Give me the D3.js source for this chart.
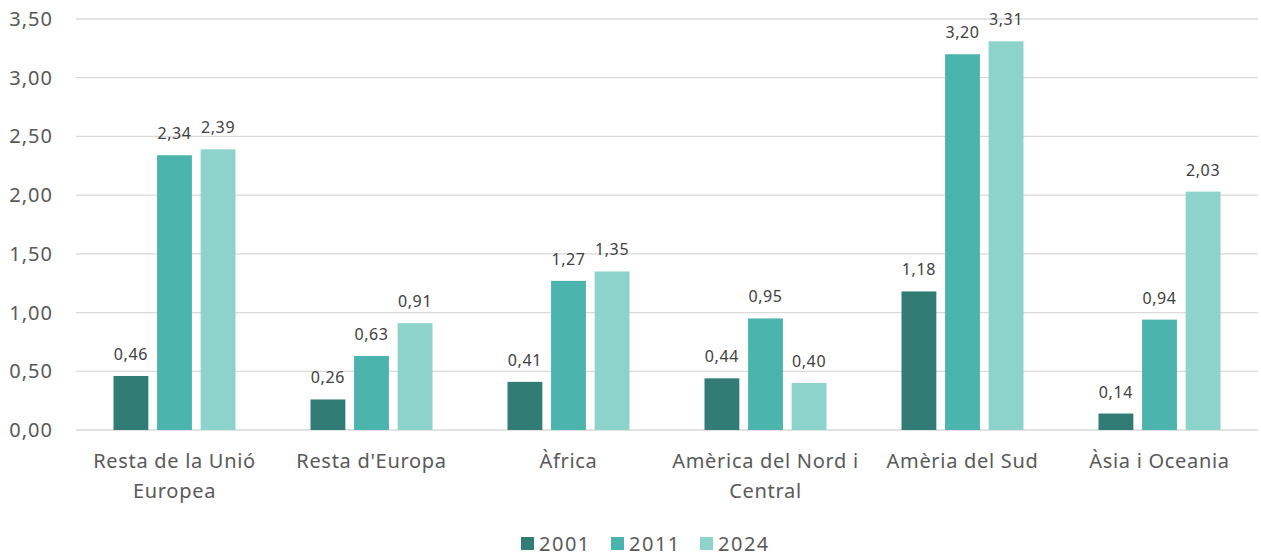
<!DOCTYPE html>
<html>
<head>
<meta charset="utf-8">
<script src="https://cdn.jsdelivr.net/npm/d3@7"></script>
<style>
  html, body { margin: 0; background: #fff; overflow: hidden; }
  svg { display: block; }
  svg text { font-family: "Noto Sans", "Open Sans", sans-serif; }
</style>
</head>
<body>
<div id="chart"></div>
<script>
const categories = [
    ["Resta de la Unió", "Europea"],
    ["Resta d'Europa"],
    ["Àfrica"],
    ["Amèrica del Nord i", "Central"],
    ["Amèria del Sud"],
    ["Àsia i Oceania"]
];
const seriesNames = ["2001", "2011", "2024"];
const values2001 = [0.46, 0.26, 0.41, 0.44, 1.18, 0.14];
const values2011 = [2.34, 0.63, 1.27, 0.95, 3.20, 0.94];
const values2024 = [2.39, 0.91, 1.35, 0.40, 3.31, 2.03];
const yTicks = [0, 0.5, 1, 1.5, 2, 2.5, 3, 3.5];
const colors = ["#317d76", "#4bb5ad", "#8cd3cc"];

const width = 1261;
const height = 557;
const margin = { top: 19, right: 3, bottom: 127, left: 76 };
const innerWidth = width - margin.left - margin.right;
const innerHeight = height - margin.top - margin.bottom;

const series = [values2001, values2011, values2024];
const keys = categories.map((c, i) => "c" + i);
const fmt = v => d3.format(".2f")(v).replace(".", ",");

const svg = d3.select("#chart")
    .append("svg")
    .attr("width", width)
    .attr("height", height);
const graph = svg.append("g")
    .attr("transform", `translate(${margin.left},${margin.top})`);

const y = d3.scaleLinear()
    .domain([0, 3.5])
    .range([innerHeight, 0]);

const x = d3.scaleBand()
    .domain(keys)
    .range([0, innerWidth]);

const xInner = d3.scaleBand()
    .domain(seriesNames)
    .range([x.bandwidth() / 2 - 61, x.bandwidth() / 2 + 61])
    .paddingInner(0.2);

// gridlines + y labels
graph.append("g")
    .selectAll("line")
    .data(yTicks)
    .join("line")
    .attr("x1", 0)
    .attr("x2", innerWidth)
    .attr("y1", d => y(d))
    .attr("y2", d => y(d))
    .attr("stroke", "#d9d9d9")
    .attr("stroke-width", 1.3);

graph.append("g")
    .selectAll("text")
    .data(yTicks)
    .join("text")
    .attr("x", -23)
    .attr("y", d => y(d))
    .attr("dy", "0.35em")
    .attr("text-anchor", "end")
    .attr("fill", "#595959")
    .attr("font-size", "20px")
    .attr("letter-spacing", "1px")
    .text(fmt);

// bars
const groups = graph.selectAll(".grp")
    .data(keys)
    .join("g")
    .attr("transform", d => `translate(${x(d)},0)`);

groups.each(function (k, ci) {
    const g = d3.select(this);
    seriesNames.forEach((s, si) => {
        const v = series[si][ci];
        g.append("rect")
            .attr("x", xInner(s))
            .attr("width", xInner.bandwidth())
            .attr("y", y(v))
            .attr("height", y(0) - y(v))
            .attr("fill", colors[si]);
        g.append("text")
            .attr("x", xInner(s) + xInner.bandwidth() / 2)
            .attr("y", y(v) - 16)
            .attr("text-anchor", "middle")
            .attr("fill", "#404040")
            .attr("font-size", "16px")
            .attr("letter-spacing", "0.6px")
            .text(fmt(v));
    });
});

// category labels
graph.append("g")
    .selectAll("text")
    .data(categories)
    .join("text")
    .attr("x", (d, i) => x(keys[i]) + x.bandwidth() / 2)
    .attr("y", innerHeight + 38)
    .attr("text-anchor", "middle")
    .attr("fill", "#595959")
    .attr("font-size", "20px")
    .attr("letter-spacing", "0.7px")
    .each(function (lines) {
        const t = d3.select(this);
        lines.forEach((l, li) => {
            t.append("tspan")
                .attr("x", t.attr("x"))
                .attr("dy", li === 0 ? 0 : 30)
                .text(l);
        });
    });

// legend
const legendX = [521, 611, 700];
const legend = svg.append("g")
    .selectAll("g")
    .data(seriesNames)
    .join("g")
    .attr("transform", (d, i) => `translate(${legendX[i]},537)`);
legend.append("rect")
    .attr("width", 13)
    .attr("height", 13)
    .attr("fill", (d, i) => colors[i]);
legend.append("text")
    .attr("x", 18)
    .attr("y", 7)
    .attr("dy", "0.35em")
    .attr("fill", "#595959")
    .attr("font-size", "20px")
    .attr("letter-spacing", "1.5px")
    .text(d => d);
</script>
</body>
</html>
